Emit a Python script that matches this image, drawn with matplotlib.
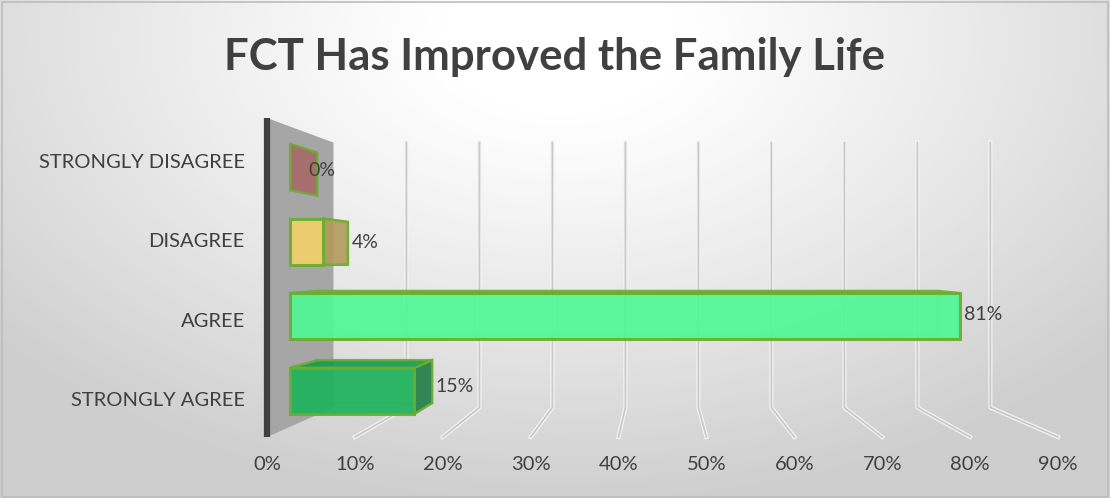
import numpy as np
import matplotlib.pyplot as plt
from matplotlib.patches import Polygon, Rectangle

plt.rcParams['font.family'] = ['Lato', 'DejaVu Sans']

# data
categories = ['STRONGLY AGREE', 'AGREE', 'DISAGREE', 'STRONGLY DISAGREE']
values = [0.15, 0.81, 0.04, 0.00]
value_labels = ['15%', '81%', '4%', '0%']
tick_vals = [0.0, 0.1, 0.2, 0.3, 0.4, 0.5, 0.6, 0.7, 0.8, 0.9]
tick_labels = ['0%', '10%', '20%', '30%', '40%', '50%', '60%', '70%', '80%', '90%']

front_cols = ['#1db25a', '#4ff794', '#f2d06b', '#b06868']
side_cols = ['#1d7d45', '#45e08a', '#b39a5c', '#a86565']
top_cols = ['#17994f', '#4ff094', '#d8b860', '#a86565']
edge_col = '#6aad2e'

# fake 3d perspective (vanishing point in data coords, depth scales)
vpx, vpy = 0.446, 1.714
s_front, s_back, s_wall = 0.941, 0.872, 0.8305
bar_h = 0.62
y_floor, y_top = -0.479, 3.542


def proj(x, y, s):
    return vpx + s * (x - vpx), vpy + s * (y - vpy)


fig = plt.figure(figsize=(11.1, 4.98), dpi=100)

# background gradient
bg = fig.add_axes([0, 0, 1, 1], zorder=-5)
yy, xx = np.mgrid[0:498, 0:1110]
r = np.hypot((xx - 560) / 1.0, (yy - 40) * 1.6)
g = 1 - 0.19 * np.clip((r - 120) / 620, 0, 1) ** 1.1
bg.imshow(np.dstack([g, g, g]), aspect='auto', extent=[0, 1, 0, 1])
bg.add_patch(Rectangle((0.002, 0.003), 0.996, 0.992, fill=False, ec='#bdbdbd', lw=1.2))
bg.set_xlim(0, 1)
bg.set_ylim(0, 1)
bg.axis('off')

ax = fig.add_axes([267 / 1110, 1 - 437 / 498, (1058 - 267) / 1110, (437 - 118) / 498])
ax.set_xlim(0, 0.9)
ax.set_ylim(y_floor, y_top)
ax.patch.set_alpha(0)
for sp in ax.spines.values():
    sp.set_visible(False)

# side wall
wall = [proj(0, y_floor, 1), proj(0, y_top, 1), proj(0, y_top, s_wall), proj(0, y_floor, s_wall)]
ax.add_patch(Polygon(wall, closed=True, fc='#a6a6a6', ec='none', zorder=1, clip_on=False))
ax.plot([0, 0], [y_floor, y_top], color='#404040', lw=4.5, solid_capstyle='butt', zorder=2, clip_on=False)

# gridlines on back wall and floor
for v in tick_vals[1:]:
    xb0, yb0 = proj(v, y_floor, s_wall)
    xb1, yb1 = proj(v, y_top, s_wall)
    xf, yf = proj(v, y_floor, 1)
    ax.plot([xf, xb0, xb1], [yf, yb0, yb1], color='#f4f4f4', lw=3.0, zorder=1, clip_on=False)
    ax.plot([xf, xb0, xb1], [yf, yb0, yb1], color='#c9c9c9', lw=1.3, zorder=1, clip_on=False)

# bars
for i, (cat, v) in enumerate(zip(categories, values)):
    y0, y1 = i - bar_h / 2, i + bar_h / 2
    # corners front/back
    fl0, fl1 = proj(0, y0, s_front), proj(0, y1, s_front)
    fr0, fr1 = proj(v, y0, s_front), proj(v, y1, s_front)
    bl0, bl1 = proj(0, y0, s_back), proj(0, y1, s_back)
    br0, br1 = proj(v, y0, s_back), proj(v, y1, s_back)

    # hidden back edges seen through
    ax.add_patch(Polygon([bl0, bl1, br1, br0], closed=True, fc='none', ec=edge_col,
                         lw=1.0, alpha=0.35, zorder=3))
    # left face (only shows when bar is thin)
    ax.add_patch(Polygon([fl0, fl1, bl1, bl0], closed=True, fc=side_cols[i], ec=edge_col,
                         lw=1.8, alpha=0.85 if v == 0 else 0.0, zorder=3))
    if fr0[0] < vpx and v > 0:
        ax.add_patch(Polygon([fr0, fr1, br1, br0], closed=True, fc=side_cols[i], ec=edge_col,
                             lw=1.8, alpha=0.9, zorder=4))
    if y1 < vpy and v > 0:
        ax.add_patch(Polygon([fl1, fr1, br1, bl1], closed=True, fc=top_cols[i], ec=edge_col,
                             lw=1.8, alpha=0.9, zorder=4))
    if v > 0:
        ax.barh(proj(0, i, s_front)[1], s_front * v, height=s_front * bar_h, left=fl0[0],
                color=front_cols[i], alpha=0.92, edgecolor=edge_col, linewidth=2.2, zorder=5)

    # data label
    xm = max(fr0[0], br0[0]) if v > 0 else bl0[0] - 0.014
    ym = proj(0, i, 0.9065)[1]
    ax.text(xm + 0.004, ym, value_labels[i], ha='left', va='center', fontsize=14,
            color='#404040', zorder=6)

ax.set_yticks(range(len(categories)), categories)
ax.set_xticks(tick_vals, tick_labels)
ax.tick_params(axis='both', length=0, labelsize=14.5, labelcolor='#404040')
ax.tick_params(axis='y', pad=16)
ax.tick_params(axis='x', pad=14)

fig.text(0.5, 1 - 57 / 498, 'FCT Has Improved the Family Life', ha='center', va='center',
         fontsize=31.5, fontweight='bold', color='#404040')

fig.savefig('out.png', dpi=100)
